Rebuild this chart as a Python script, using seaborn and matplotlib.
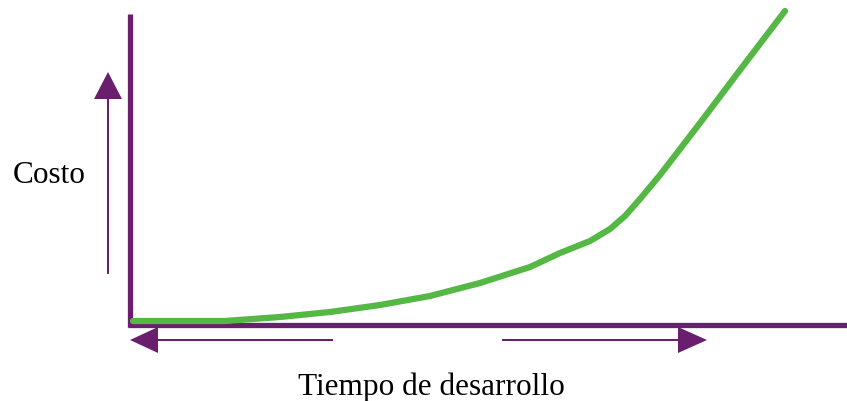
import matplotlib
matplotlib.use("Agg")
import matplotlib.pyplot as plt
import seaborn as sns
import pandas as pd
from matplotlib.patches import FancyArrow

# curve (origin at the axes corner, 1 unit ~ 1 px)
tiempo = [3, 95, 150, 200, 250, 300, 350, 400, 430, 460, 480, 495,
          510, 530, 570, 610, 655]
costo = [4, 4, 8, 13, 20, 29, 42, 58, 72, 84, 96, 109,
         126, 150, 202, 255, 314]

purple = "#6a1f6e"
green = "#55b845"

sns.set_theme(style="white")
plt.rcParams["font.family"] = ["Liberation Serif", "DejaVu Serif"]

df = pd.DataFrame({"Tiempo": tiempo, "Costo": costo})

fig = plt.figure(figsize=(8.47, 4.02), dpi=100)
ax = fig.add_axes([0, 0, 1, 1])
ax.set_xlim(-130, 717)
ax.set_ylim(-76, 326)
ax.axis("off")

# axes drawn as thick purple lines
ax.plot([0, 0], [311, -2], color=purple, lw=3.8, solid_capstyle="butt")
ax.plot([-2, 717], [0, 0], color=purple, lw=3.8, solid_capstyle="butt")

sns.lineplot(data=df, x="Tiempo", y="Costo", ax=ax, color=green, lw=4.5,
             zorder=3)

# direction arrows
ax.add_patch(FancyArrow(-22, 51, 0, 202, width=2, head_width=28,
                        head_length=27, length_includes_head=True,
                        color=purple, lw=0))
ax.add_patch(FancyArrow(203, -15, -203, 0, width=2, head_width=26,
                        head_length=28, length_includes_head=True,
                        color=purple, lw=0))
ax.add_patch(FancyArrow(372, -15, 205, 0, width=2, head_width=26,
                        head_length=29, length_includes_head=True,
                        color=purple, lw=0))

ax.text(-117, 143, "Costo", fontsize=22.5, color="black", va="baseline")
ax.text(168, -69, "Tiempo de desarrollo", fontsize=22.5, color="black",
        va="baseline")

plt.savefig("out.png", dpi=100)
plt.close()
